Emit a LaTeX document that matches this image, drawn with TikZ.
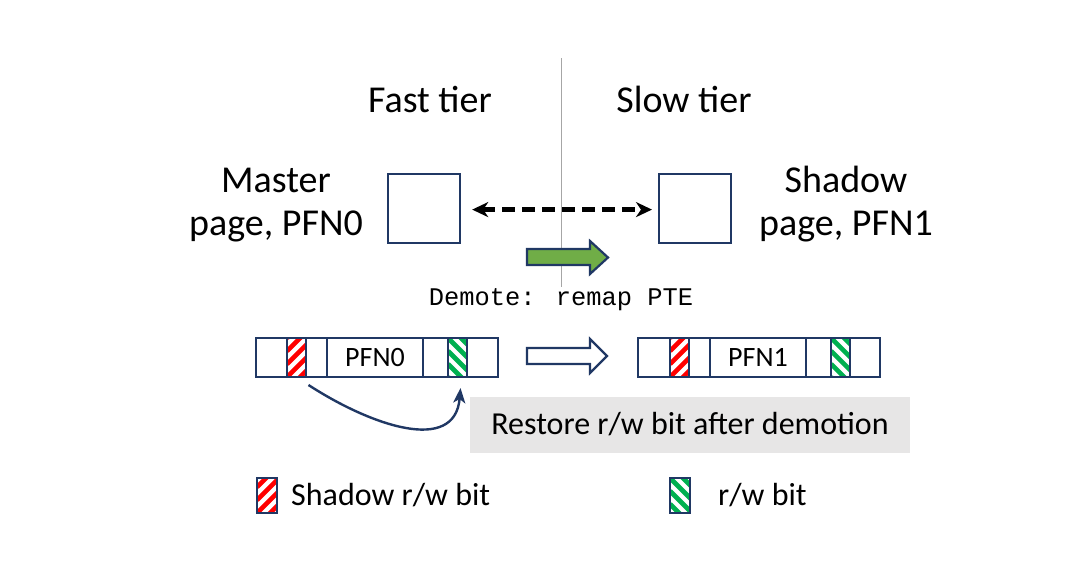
\documentclass[tikz,border=0pt]{standalone}
\usepackage{fontspec}
\setmainfont{Carlito}
\newfontfamily\monof{Liberation Mono}
\usetikzlibrary{arrows.meta}
\definecolor{navy}{HTML}{203864}
\definecolor{grn}{HTML}{70AD47}
\definecolor{stripeg}{HTML}{00B050}
\definecolor{boxgray}{HTML}{E7E6E6}
\tikzset{
  cell/.style={draw=navy, line width=2pt, fill=white, minimum height=39pt, inner sep=0pt, anchor=north west, font=\fontsize{28}{32}\selectfont},
  pagebox/.style={draw=navy, line width=2.2pt, minimum width=72pt, minimum height=69pt, inner sep=0pt, anchor=north west},
  redstripe/.style={path picture={\foreach \k in {-4,...,5}{\draw[red,line width=4.6pt] ([yshift=\k*13pt]path picture bounding box.south west) -- ++(45:70pt);}}},
  grnstripe/.style={path picture={\foreach \k in {-4,...,5}{\draw[stripeg,line width=4.6pt] ([yshift=-\k*13pt]path picture bounding box.north west) -- ++(-45:70pt);}}},
  bigtxt/.style={font=\fontsize{38}{43}\selectfont, inner sep=0pt, align=center},
  midtxt/.style={font=\fontsize{32}{36}\selectfont, inner sep=0pt},
  blockarrow/.style={draw=navy, line width=2.2pt, line join=miter},
}
\begin{document}
\begin{tikzpicture}[x=1pt,y=-1pt]
\useasboundingbox[fill=white] (0,0) rectangle (1084,570);
% divider
\coordinate (dtop) at (561,58);
\coordinate (dbot) at (561,287);
\draw[black!35, line width=1pt] (dtop) -- (dbot);
% tiers
\node[bigtxt, anchor=base] (fast) at (430,112) {Fast tier};
\node[bigtxt, anchor=base] (slow) at (684,112) {Slow tier};
% pages
\node[pagebox] (mbox) at (387,173) {};
\node[pagebox] (sbox) at (658,173) {};
\node[bigtxt, anchor=base] (mtxt) at (276,192) {Master};
\node[bigtxt, anchor=base] (mtxt2) at (276,235) {page, PFN0};
\node[bigtxt, anchor=base] (stxt) at (846,192) {Shadow};
\node[bigtxt, anchor=base] (stxt2) at (846,235) {page, PFN1};
\draw[black, line width=4.5pt, dash pattern=on 13pt off 7pt, {Stealth[length=16pt,width=15pt,inset=5pt]}-{Stealth[length=16pt,width=15pt,inset=5pt]}] ([xshift=11pt,yshift=-1pt]mbox.east) -- ([xshift=-6pt,yshift=-1pt]sbox.west);
% green arrow
\draw[blockarrow, fill=grn] (527,249) -- (590,249) -- (590,241) -- (608,257.5) -- (590,274) -- (590,265) -- (527,265) -- cycle;
\node[font=\monof\fontsize{25.4}{28}\selectfont, anchor=base, inner sep=0pt] (demote) at (561,305) {Demote: remap PTE};
% left row
\node[cell, minimum width=31pt] (l1) at (255,337) {};
\node[cell, minimum width=19pt, redstripe] (l2) at (286,337) {};
\node[cell, minimum width=21pt] (l3) at (305,337) {};
\node[cell, minimum width=96pt] (l4) at (326,337) {PFN0};
\node[cell, minimum width=26pt] (l5) at (422,337) {};
\node[cell, minimum width=19pt, grnstripe] (l6) at (447,337) {};
\node[cell, minimum width=31pt] (l7) at (466,337) {};
% right row
\node[cell, minimum width=32pt] (r1) at (637,337) {};
\node[cell, minimum width=19pt, redstripe] (r2) at (669,337) {};
\node[cell, minimum width=21pt] (r3) at (688,337) {};
\node[cell, minimum width=96pt] (r4) at (709,337) {PFN1};
\node[cell, minimum width=25pt] (r5) at (805,337) {};
\node[cell, minimum width=19pt, grnstripe] (r6) at (830,337) {};
\node[cell, minimum width=30pt] (r7) at (849,337) {};
% hollow arrow
\draw[blockarrow, fill=white] (527,348) -- (590,348) -- (590,339) -- (607,356) -- (590,373) -- (590,364) -- (527,364) -- cycle;
% gray box
\node[fill=boxgray, minimum width=440pt, minimum height=56pt, inner sep=0pt, font=\fontsize{32}{36}\selectfont] (restore) at (690,424.5) {Restore r/w bit after demotion};
% curved arrow
\draw[navy, line width=2.4pt, -{Stealth[length=15pt,width=12pt,inset=4pt]}] ([xshift=12pt,yshift=-7pt]l2.south) .. controls (370,425) and (455,455) .. ([xshift=3pt,yshift=-10pt]l6.south);
% legend
\node[cell, minimum width=20pt, minimum height=35pt, redstripe] (lg1) at (256,477) {};
\node[midtxt, anchor=base west] (lgt1) at (291,505) {Shadow r/w bit};
\node[cell, minimum width=20pt, minimum height=35pt, grnstripe] (lg2) at (669,477) {};
\node[midtxt, anchor=base west] (lgt2) at (718,505) {r/w bit};
\end{tikzpicture}
\end{document}
